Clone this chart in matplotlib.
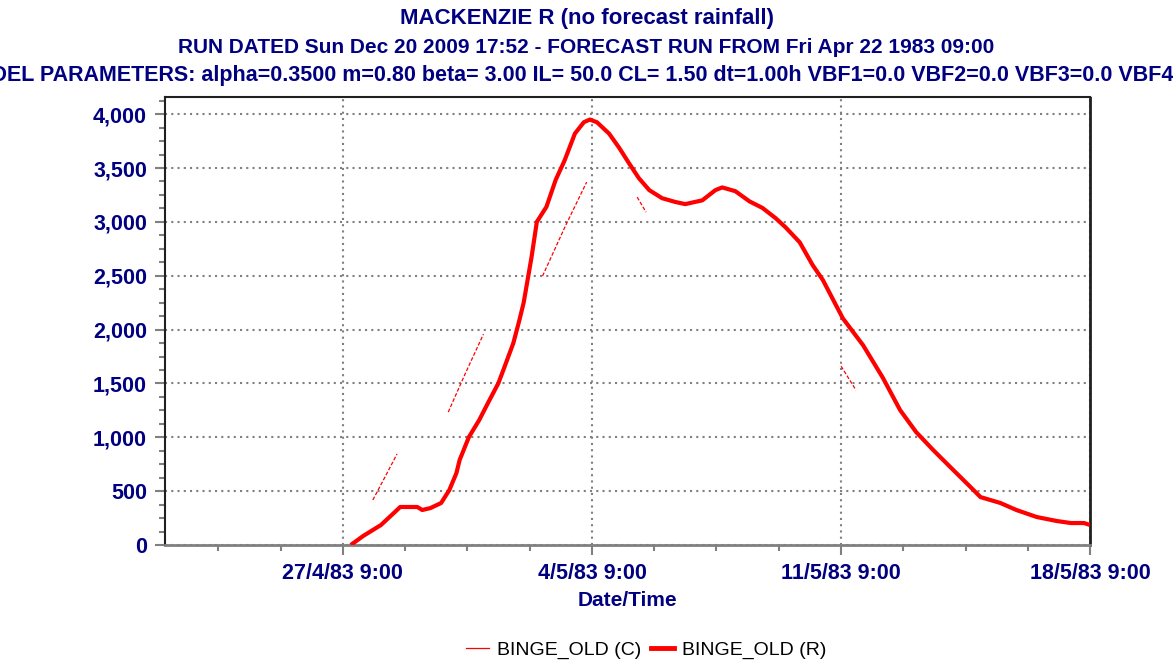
import numpy as np
import pandas as pd
import matplotlib
matplotlib.use("Agg")
import matplotlib.pyplot as plt
import matplotlib.dates as mdates
from matplotlib.ticker import FuncFormatter, MultipleLocator, FixedLocator

NAVY = "#000080"
plt.rcParams["font.family"] = ["Liberation Sans", "DejaVu Sans"]

# forecast start and run header
start = pd.Timestamp("1983-04-22 09:00")
title_1 = "MACKENZIE R (no forecast rainfall)"
title_2 = "RUN DATED Sun Dec 20 2009 17:52 - FORECAST RUN FROM Fri Apr 22 1983 09:00"
title_3 = ("MODEL PARAMETERS: alpha=0.3500 m=0.80 beta= 3.00 IL= 50.0 CL= 1.50 "
           "dt=1.00h VBF1=0.0 VBF2=0.0 VBF3=0.0 VBF4=0.0")

# recorded flow (R), days after forecast start
r_days = [5.22, 5.57, 6.07, 6.43, 6.61, 7.09, 7.23, 7.46, 7.76, 7.99, 8.19, 8.28,
          8.54, 8.83, 9.09, 9.37, 9.54, 9.79, 9.96, 10.08, 10.30, 10.45, 10.72,
          10.98, 11.23, 11.52, 11.77, 11.94, 12.14, 12.48, 12.76, 13.04, 13.32,
          13.61, 13.97, 14.34, 14.62, 15.10, 15.47, 15.66, 16.03, 16.43, 16.79,
          17.16, 17.44, 17.84, 18.20, 18.49, 19.05, 19.62, 20.18, 20.66, 21.11,
          21.59, 22.07, 22.64, 22.92, 23.48, 23.93, 24.50, 25.06, 25.46, 25.83,
          26.0]
r_flow = [0, 84, 186, 297, 353, 353, 325, 343, 390, 510, 668, 789,
          1002, 1160, 1327, 1503, 1652, 1875, 2088, 2250, 2670, 3000, 3140,
          3390, 3570, 3820, 3925, 3950, 3925, 3820, 3690, 3545, 3405,
          3295, 3220, 3185, 3165, 3200, 3295, 3320, 3285, 3190, 3130,
          3035, 2950, 2810, 2600, 2460, 2105, 1855, 1550, 1253, 1049,
          882, 724, 538, 445, 390, 325, 260, 223, 204, 204,
          186]

# computed flow (C), short pieces separated by gaps
c_days = [5.84, 6.18, 6.52, np.nan,
          7.96, 8.45, 8.95, np.nan,
          10.61, 11.25, 11.85, np.nan,
          13.27, 13.52, np.nan,
          19.00, 19.42]
c_flow = [418, 630, 845, np.nan,
          1234, 1600, 1958, np.nan,
          2497, 2960, 3369, np.nan,
          3230, 3090, np.nan,
          1661, 1438]

major_days = [5, 12, 19, 26]


def to_time(days):
    return start + pd.to_timedelta(np.asarray(days, dtype=float), unit="D")


fig = plt.figure(figsize=(11.73, 6.64), dpi=100)
ax = fig.add_axes([0.1407, 0.1792, 0.7886, 0.6748])

line_c, = ax.plot(to_time(c_days), c_flow, color="#ff0000", lw=0.9, ls=(0, (3, 1.5)),
                  zorder=3)
line_r, = ax.plot(to_time(r_days), r_flow, color="#ff0000", lw=3.0,
                  zorder=4, solid_capstyle="butt")

ax.set_xlim(mdates.date2num(start), mdates.date2num(start + pd.Timedelta(days=26)))
ax.set_ylim(0, 4160)

# date ticks: labelled weekly, minor every 1.75 days
maj = [mdates.date2num(start + pd.Timedelta(days=d)) for d in major_days]
mnr = [mdates.date2num(start + pd.Timedelta(days=d)) for d in np.arange(-0.25, 26.1, 1.75)]
ax.xaxis.set_major_locator(FixedLocator(maj))
ax.xaxis.set_minor_locator(FixedLocator(mnr))


def fmt_date(x, pos):
    d = mdates.num2date(x)
    return f"{d.day}/{d.month}/{d:%y} {d.hour}:{d:%M}"


ax.xaxis.set_major_formatter(FuncFormatter(fmt_date))
ax.yaxis.set_major_locator(MultipleLocator(500))
ax.yaxis.set_minor_locator(MultipleLocator(125))
ax.yaxis.set_major_formatter(FuncFormatter(lambda v, p: f"{v:,.0f}"))

ax.grid(True, which="major", color="#808080", ls=(0, (1, 2)), lw=1.5)
ax.tick_params(which="both", direction="out", color="#808080", width=1.5)
ax.tick_params(which="major", length=7, labelsize=15.5, labelcolor=NAVY, pad=6)
ax.tick_params(which="minor", length=4)
for lab in ax.get_xticklabels() + ax.get_yticklabels():
    lab.set_fontweight("bold")

ax.spines["left"].set_color("#202020")
ax.spines["left"].set_linewidth(1.5)
ax.spines["top"].set_color("#202020")
ax.spines["top"].set_linewidth(1.5)
ax.spines["bottom"].set_color("#808080")
ax.spines["bottom"].set_linewidth(2)
ax.spines["right"].set_color("#202020")
ax.spines["right"].set_linestyle((0, (1, 1)))
ax.spines["right"].set_linewidth(2)

ax.set_xlabel("Date/Time", fontsize=15, fontweight="bold", color=NAVY, labelpad=5)

# header lines; the last one is wider than the figure and runs off both edges
fig.text(0.5, 0.972, title_1, ha="center", va="center", fontsize=16,
         fontweight="bold", color=NAVY)
fig.text(0.5, 0.929, title_2, ha="center", va="center", fontsize=15,
         fontweight="bold", color=NAVY)
fig.text(0.5, 0.886, title_3, ha="center", va="center", fontsize=15.5,
         fontweight="bold", color=NAVY)

# solid handles for the legend
h_c = plt.Line2D([], [], color="#ff0000", lw=0.9)
h_r = plt.Line2D([], [], color="#ff0000", lw=3.5)
fig.legend([h_c, h_r], ["BINGE_OLD (C)", "BINGE_OLD (R)"], loc="center",
           bbox_to_anchor=(0.551, 0.021), ncol=2, frameon=False,
           fontsize=14, handlelength=1.2, handletextpad=0.4, columnspacing=0.5)

fig.savefig("out.png", dpi=100)
